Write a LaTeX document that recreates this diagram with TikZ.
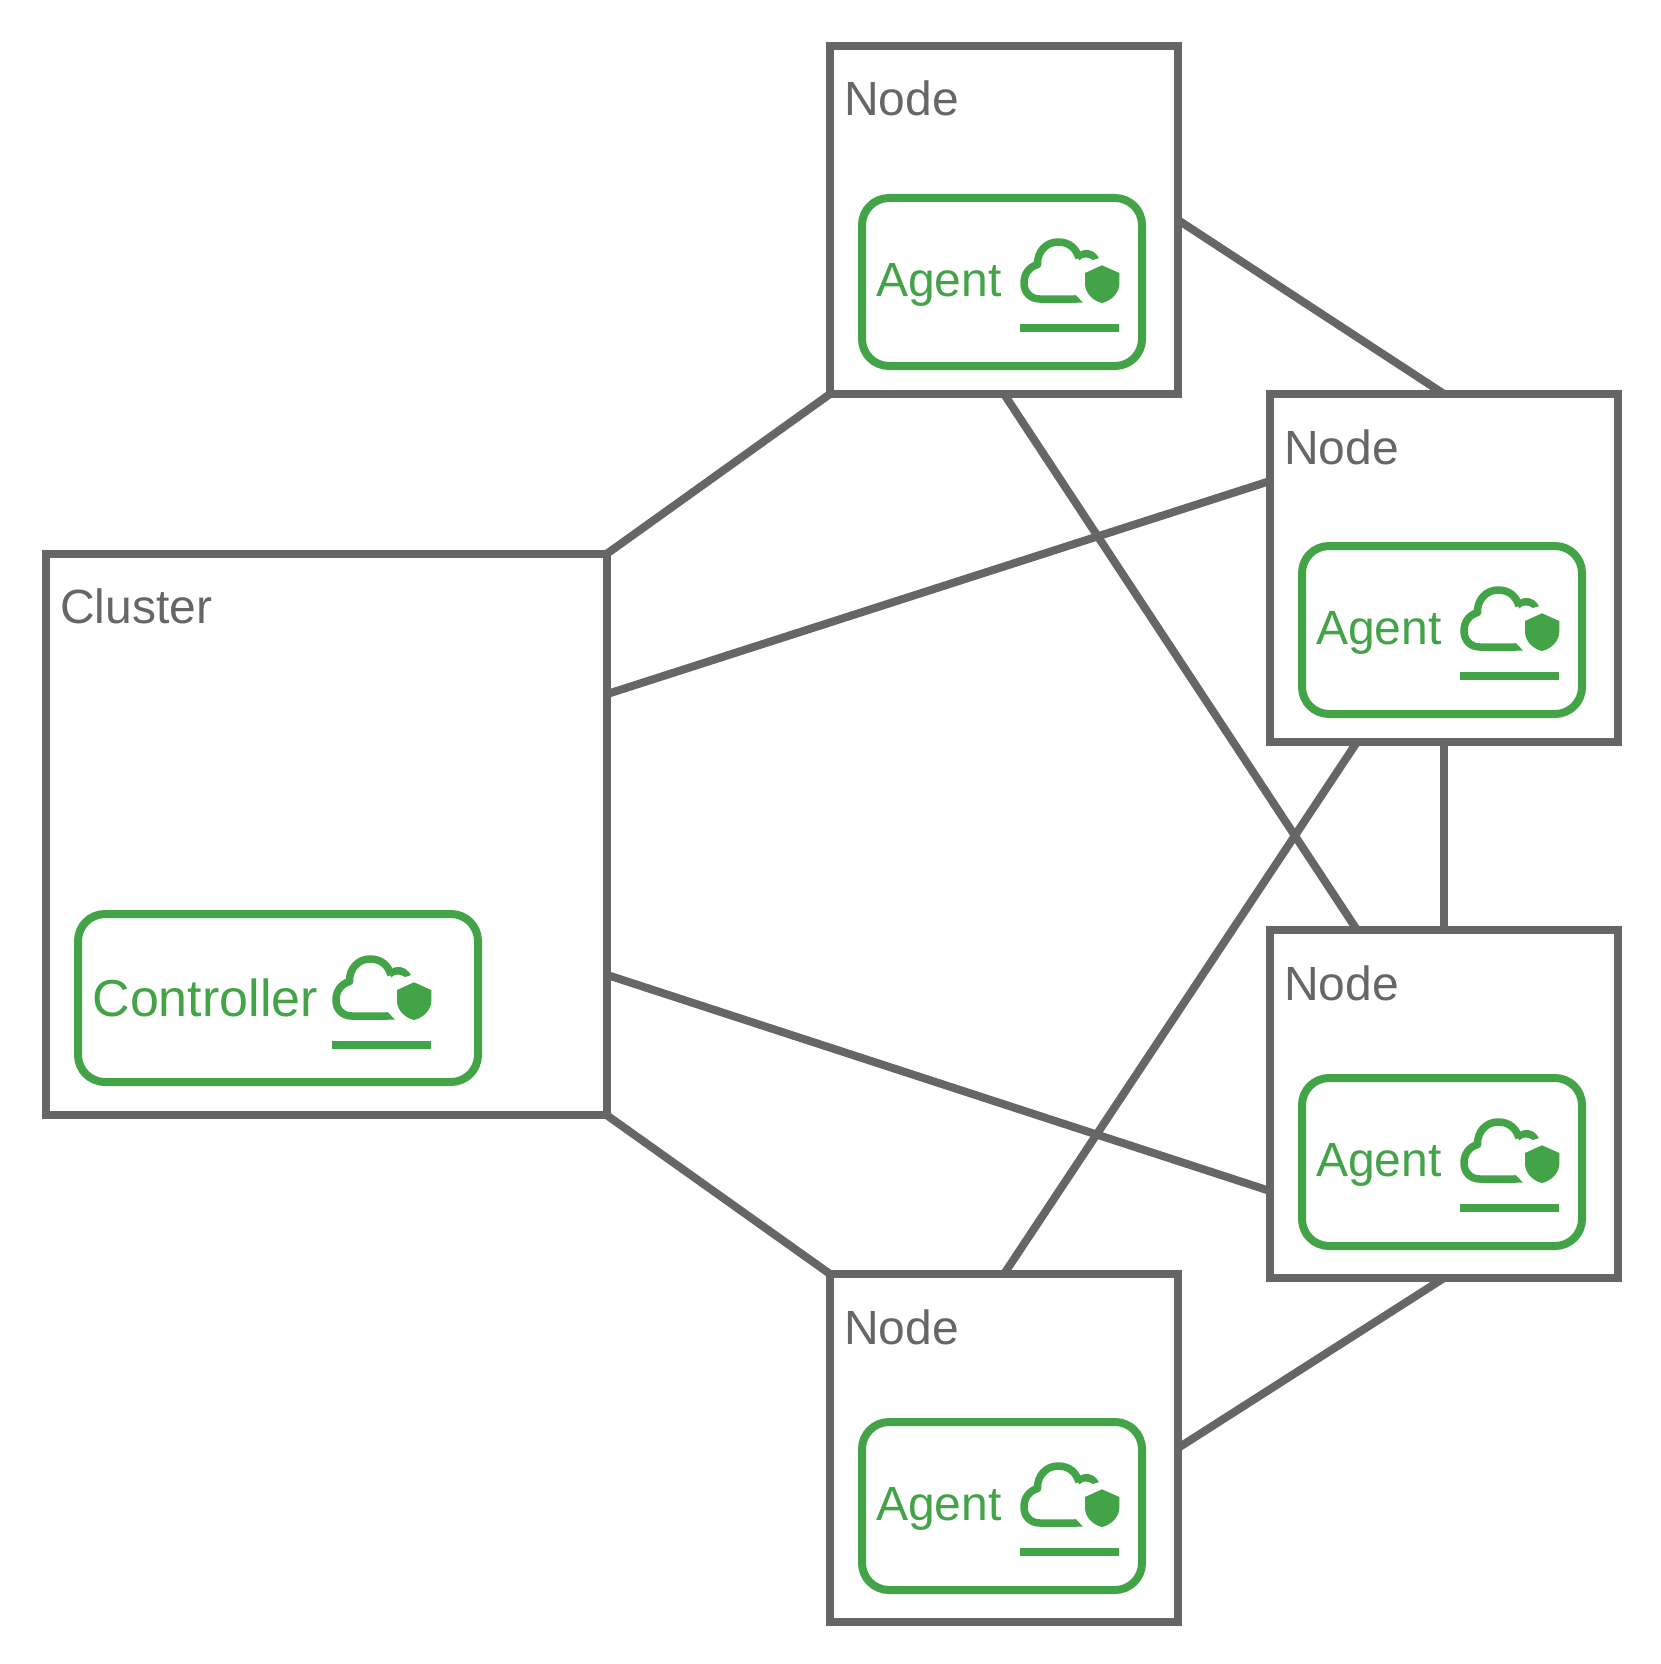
\documentclass[tikz,border=0pt]{standalone}
\usepackage{fontspec}
\setmainfont{Liberation Sans}
\usetikzlibrary{calc}
\definecolor{linegray}{HTML}{666666}
\definecolor{leafgreen}{HTML}{43A347}
\tikzset{
  hostbox/.style={draw=linegray,line width=8pt,inner sep=0pt,outer sep=0pt,anchor=north west,minimum width=348pt,minimum height=348pt},
  clusterbox/.style={hostbox,minimum width=560.5pt,minimum height=561pt},
  agentbox/.style={draw=leafgreen,line width=8pt,rounded corners=27pt,inner sep=0pt,outer sep=0pt,anchor=north west,minimum width=280pt,minimum height=168pt},
  ctrlbox/.style={agentbox,minimum width=400pt},
  graylabel/.style={text=linegray,inner sep=0pt,outer sep=0pt,anchor=base west,font=\fontsize{48}{48}\selectfont},
  greenlabel/.style={text=leafgreen,inner sep=0pt,outer sep=0pt,anchor=base west,font=\fontsize{48}{48}\selectfont},
  ctrllabel/.style={greenlabel,font=\fontsize{52}{52}\selectfont},
  link/.style={draw=linegray,line width=8pt},
  cloudicon/.pic={
    \draw[leafgreen,line width=7.5pt,line join=round] (56,61) -- (20,61)
      .. controls (10,61) and (4,54) .. (4,45)
      .. controls (4,36) and (9,29) .. (17.5,26.5)
      .. controls (17,14) and (26,4) .. (38,4)
      .. controls (49,4) and (56,10) .. (59,20);
    \fill[leafgreen] (57,16) .. controls (63,10) and (73,10) .. (79,20)
      -- (73,22) .. controls (68,18.5) and (63,18.5) .. (59,22.5) -- cycle;
    \fill[leafgreen] (56,57.3) -- (63,64.7) -- (54,64.7) -- (54,57.3) -- cycle;
    \fill[leafgreen] (82,27.3) -- (99.3,35) -- (99.3,46)
      .. controls (99.3,55) and (91,63) .. (82,65)
      .. controls (73,63) and (65,55) .. (65,46) -- (65,35) -- cycle;
    \fill[leafgreen] (0,86) rectangle (99,94);
  }
}
\newcommand{\hostunit}[4]{% name, x, y, agent y offset
  \node[hostbox] (#1) at (#2,#3) {};
  \node[graylabel] (#1label) at ($(#2,#3)+(14.3,70)$) {Node};
  \node[agentbox] (#1agent) at ($(#2,#3)+(32,#4)$) {};
  \node[greenlabel] (#1agentlabel) at ($(#2,#3)+(46,#4+98)$) {Agent};
  \pic at ($(#2,#3)+(190,#4+40)$) {cloudicon};
}
\begin{document}
\begin{tikzpicture}[x=1pt,y=-1pt]
\fill[white] (0,0) rectangle (1660,1664);
\useasboundingbox (0,0) rectangle (1660,1664);
\node[clusterbox] (cluster) at (46,554) {};
\node[graylabel] (clusterlabel) at (60.3,623) {Cluster};
\node[ctrlbox] (controller) at (78,914) {};
\node[ctrllabel] (controllerlabel) at (92.5,1016) {Controller};
\pic at (332,955) {cloudicon};
\hostunit{top}{830}{46}{152}
\hostunit{rup}{1270}{394}{152}
\hostunit{rlow}{1270}{930}{148}
\hostunit{bot}{830}{1274}{148}
\draw[link] (cluster.north east) -- (top.south west);
\draw[link] ($(cluster.north east)!0.25!(cluster.south east)$) -- ($(rup.north west)!0.25!(rup.south west)$);
\draw[link] ($(cluster.north east)!0.75!(cluster.south east)$) -- ($(rlow.north west)!0.75!(rlow.south west)$);
\draw[link] (cluster.south east) -- (bot.north west);
\draw[link] (top.east) -- (rup.north);
\draw[link] (top.south) -- ($(rlow.north west)!0.25!(rlow.north east)$);
\draw[link] ($(rup.south west)!0.25!(rup.south east)$) -- (bot.north);
\draw[link] (rup.south) -- (rlow.north);
\draw[link] (bot.east) -- (rlow.south);
\end{tikzpicture}
\end{document}
